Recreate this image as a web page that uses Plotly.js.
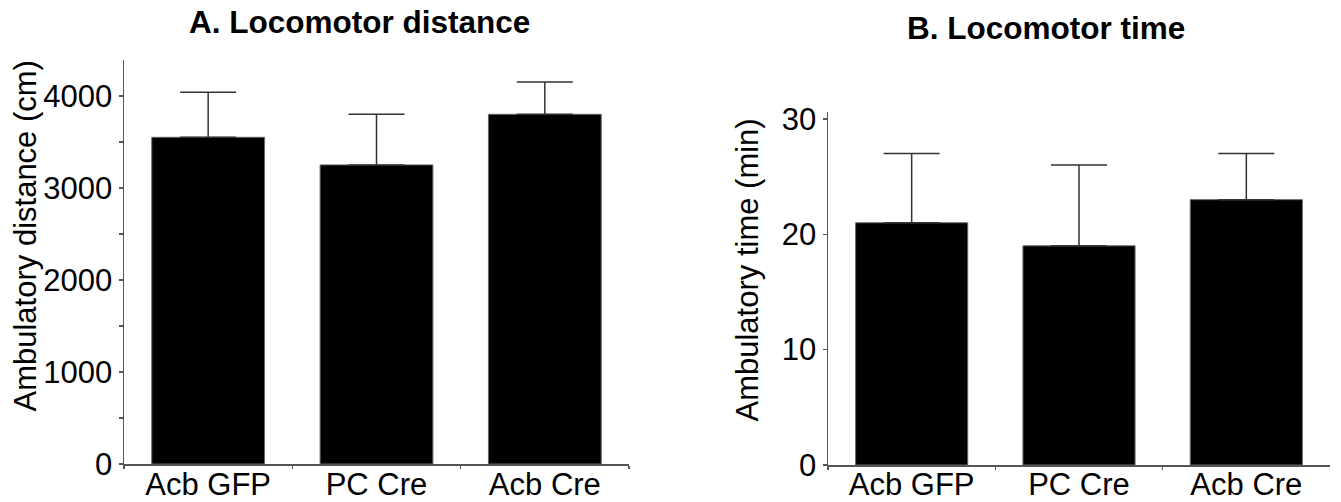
<!DOCTYPE html>
<html>
<head>
<meta charset="utf-8">
<script src="https://cdn.plot.ly/plotly-3.0.1.min.js"></script>
<style>html,body{margin:0;padding:0;background:#fff;}#chart{width:1341px;height:502px;}</style>
</head>
<body>
<div id="chart"></div>
<script>
const categories = ["Acb GFP", "PC Cre", "Acb Cre"];
const distanceMean = [3550, 3250, 3800];
const distanceUpper = [4040, 3800, 4150];
const timeMean = [21, 19, 23];
const timeUpper = [27, 26, 27];
const distanceTicks = [0, 1000, 2000, 3000, 4000];
const timeTicks = [0, 10, 20, 30];

const FONT = "Liberation Sans, Arial, sans-serif";
const H = 502, W = 1341;

function errPlus(mean, upper){ return upper.map((u,i)=>u-mean[i]); }

const barStyle = {color:"#000", line:{color:"#666", width:1}};
const errStyle = (m,u)=>({type:"data", symmetric:false, array:errPlus(m,u), arrayminus:m.map(()=>0), color:"#333", thickness:1.5, width:28});

const traces = [
  {type:"bar", x:categories, y:distanceMean, xaxis:"x", yaxis:"y", width:0.67, marker:barStyle, error_y:errStyle(distanceMean,distanceUpper), hoverinfo:"none"},
  {type:"bar", x:categories, y:timeMean, xaxis:"x2", yaxis:"y2", width:0.67, marker:barStyle, error_y:errStyle(timeMean,timeUpper), hoverinfo:"none"}
];

const axisCommon = {showline:true, linecolor:"#555", linewidth:1.5, showgrid:false, zeroline:false, ticks:"outside", tickcolor:"#555", tickwidth:1.5, tickfont:{family:FONT, size:31, color:"#000"}};
const xCommon = {type:"category", range:[-0.5,2.5], tickson:"boundaries", ticklen:3};

const layout = {
  width:W, height:H,
  margin:{l:0,r:0,t:0,b:0},
  paper_bgcolor:"#fff", plot_bgcolor:"#fff",
  showlegend:false,
  xaxis: Object.assign({}, axisCommon, xCommon, {domain:[124/W, 629/W], anchor:"y", ticklabelstandoff:-8}),
  yaxis: Object.assign({}, axisCommon, {domain:[(H-464)/H, (H-60)/H], anchor:"x", range:[0,4390], tickvals:distanceTicks, ticklen:4,
    minor:{dtick:500, ticks:"outside", ticklen:4, tickcolor:"#555", tickwidth:1.2}}),
  xaxis2: Object.assign({}, axisCommon, xCommon, {domain:[828/W, 1330/W], anchor:"y2", ticklabelstandoff:-9}),
  yaxis2: Object.assign({}, axisCommon, {domain:[(H-465)/H, (H-112)/H], anchor:"x2", range:[0,30.6], tickvals:timeTicks, ticklen:4}),
  annotations:[
    {text:"<b>A. Locomotor distance</b>", xref:"paper", yref:"paper", x:359/W, y:(H-22.5)/H, xanchor:"center", yanchor:"middle", showarrow:false, font:{family:FONT, size:31.5, color:"#000"}},
    {text:"<b>B. Locomotor time</b>", xref:"paper", yref:"paper", x:1046/W, y:(H-28)/H, xanchor:"center", yanchor:"middle", showarrow:false, font:{family:FONT, size:31.5, color:"#000"}},
    {text:"Ambulatory distance (cm)", xref:"paper", yref:"paper", x:25/W, y:(H-236.5)/H, xanchor:"center", yanchor:"middle", textangle:-90, showarrow:false, font:{family:FONT, size:31, color:"#000"}},
    {text:"Ambulatory time (min)", xref:"paper", yref:"paper", x:747/W, y:(H-270.5)/H, xanchor:"center", yanchor:"middle", textangle:-90, showarrow:false, font:{family:FONT, size:31, color:"#000"}}
  ]
};

Plotly.newPlot("chart", traces, layout, {staticPlot:true, displayModeBar:false});
</script>
</body>
</html>
